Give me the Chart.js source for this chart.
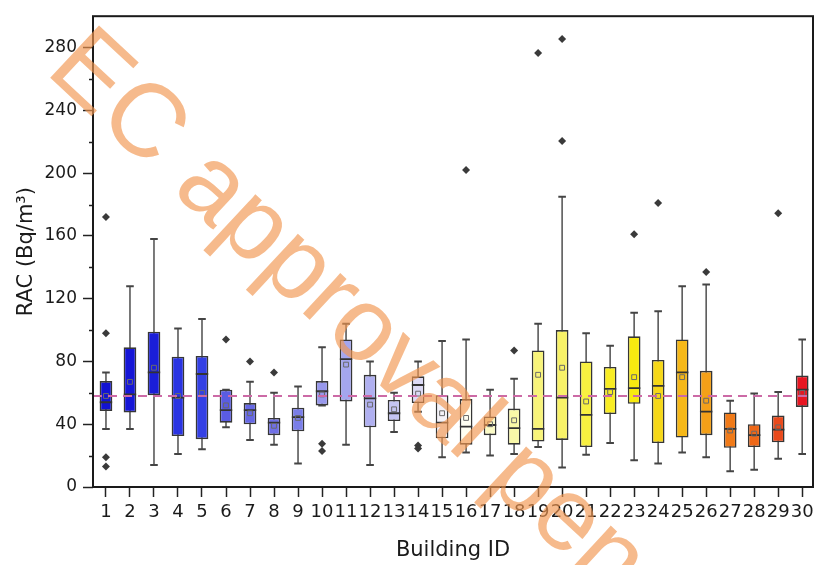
<!DOCTYPE html>
<html>
<head>
<meta charset="utf-8">
<script src="https://cdn.jsdelivr.net/npm/chart.js@4.4.1/dist/chart.umd.min.js"></script>
<style>
  html, body { margin: 0; padding: 0; background: #ffffff; overflow: hidden; }
  #chart { display: block; }
</style>
</head>
<body>
<canvas id="chart" width="815" height="565"></canvas>
<script>
// Radon activity concentration per building (Bq/m3): box-plot statistics
const buildingIds = [1,2,3,4,5,6,7,8,9,10,11,12,13,14,15,16,17,18,19,20,21,22,23,24,25,26,27,28,29,30];
const whiskerLow  = [37, 37, 14, 21, 24, 38, 30, 27, 15, 52, 27, 14, 35, 48, 19, 22, 20, 21, 25.5, 12.5, 20.5, 28, 17, 15, 22, 19, 10, 11, 18, 21];
const q1          = [48.5, 47.5, 58.5, 32.5, 30.5, 41, 40, 33, 35.5, 52, 54.5, 38, 42, 53.5, 31, 27, 33, 27, 29, 30, 25.5, 46.5, 53, 28, 31.5, 33, 25, 25.5, 28.5, 51];
const median      = [54, 59, 73, 57, 72, 49, 49, 41, 44.5, 61, 81.5, 56.5, 47, 65, 41, 38.5, 39.5, 37.5, 37, 57, 46, 62.5, 63, 64.5, 73, 48, 37, 33, 36.5, 62];
const q3          = [67.5, 89, 99, 83, 83.5, 62, 53.5, 44, 50.5, 67.5, 94, 71.5, 55.5, 70.5, 58.5, 56, 45, 50, 87, 100, 80, 76.5, 96, 81, 94, 74, 47.5, 40, 45.5, 71];
const whiskerHigh = [73, 128, 158, 101, 107, 62, 67, 60, 64, 89, 104, 80, 60, 80, 93, 94, 62, 69, 104, 185, 98, 90, 111, 112, 128, 129, 55, 59.5, 60.5, 94];
const meanValue   = [58, 67, 76, 58, 60, 52, 47, 39, 44, 59, 78, 52.5, 49.5, 59.5, 47, 44, 40, 42.5, 71.5, 76, 54.5, 60.5, 70, 58, 70, 55, 36, 34, 38, 60];
// outliers as [building, value]
const outliers = [
  [1, 172], [1, 98], [1, 19], [1, 13],
  [6, 94], [7, 80], [8, 73],
  [10, 27.5], [10, 23],
  [14, 26.5], [14, 24.5],
  [16, 202], [18, 87],
  [19, 276.5], [20, 285.5], [20, 220.5],
  [23, 161], [24, 181], [26, 137], [29, 174.5]
];
// box fill colours, blue through yellow to red
const boxColors = [
  '#1212d2', '#1616d6', '#1a1ed8', '#2a34e2', '#3440e4',
  '#5a5ce2', '#6668e4', '#7070e6', '#7a7ee8', '#9898ec',
  '#a4a6ee', '#b0b0f0', '#c4c4f2', '#dcdaf6', '#f4f2f8',
  '#fffff2', '#fbfbc6', '#f9f8a8', '#f8f47a', '#f8f268',
  '#f8f040', '#f8ec24', '#f8ea10', '#f6d818', '#f6b818',
  '#f4a018', '#f07a18', '#ee6818', '#ea4a1c', '#e81622'
];
const referenceLevel = 58;
const yTicksMajor = [0, 40, 80, 120, 160, 200, 240, 280];

const boxData = buildingIds.map((b, i) => ({ x: b, y: [q1[i], q3[i]] }));
const whiskerData = buildingIds.map((b, i) => ({ x: b, y: [whiskerLow[i], whiskerHigh[i]] }));
const capData = buildingIds.flatMap((b, i) => [{ x: b, y: whiskerLow[i] }, { x: b, y: whiskerHigh[i] }]);
const medianData = buildingIds.map((b, i) => ({ x: b, y: median[i] }));
const meanData = buildingIds.map((b, i) => ({ x: b, y: meanValue[i] }));
const outlierData = outliers.map(([b, v]) => ({ x: b, y: v }));

const FONT = 'DejaVu Sans';

const decorPlugin = {
  id: 'decor',
  afterDatasetsDraw(chart) {
    const { ctx, chartArea: a, scales: { y } } = chart;
    const yy = y.getPixelForValue(referenceLevel);
    ctx.save();
    ctx.setLineDash([9, 6]);
    ctx.strokeStyle = '#cc6aa6';
    ctx.lineWidth = 2;
    ctx.beginPath();
    ctx.moveTo(a.left, yy);
    ctx.lineTo(a.right, yy);
    ctx.stroke();
    ctx.restore();
  },
  afterDraw(chart) {
    const { ctx, chartArea: a, scales: { y } } = chart;
    ctx.save();
    // minor ticks on the value axis
    ctx.strokeStyle = '#222';
    ctx.lineWidth = 1.5;
    for (let v = 20; v < y.max; v += 40) {
      const py = Math.round(y.getPixelForValue(v)) + 0.5;
      ctx.beginPath();
      ctx.moveTo(a.left - 4, py);
      ctx.lineTo(a.left, py);
      ctx.stroke();
    }
    // frame
    ctx.strokeStyle = '#1a1a1a';
    ctx.lineWidth = 2;
    ctx.strokeRect(a.left, a.top, a.right - a.left, a.bottom - a.top);
    // watermark
    ctx.translate(44, 72);
    ctx.rotate(43 * Math.PI / 180);
    ctx.font = '104px "Liberation Sans"';
    ctx.fillStyle = 'rgba(241,150,80,0.66)';
    ctx.textBaseline = 'alphabetic';
    ctx.fillText('EC approval pending', 0, 0);
    ctx.restore();
  }
};

new Chart(document.getElementById('chart'), {
  type: 'bar',
  data: {
    datasets: [
      {
        type: 'bar', data: whiskerData, grouped: false, order: 6,
        backgroundColor: '#555555', borderWidth: 0,
        categoryPercentage: 1, barPercentage: 0.065
      },
      {
        type: 'bar', data: boxData, grouped: false, order: 5,
        backgroundColor: boxColors, borderColor: '#363636', borderWidth: 1.6,
        borderSkipped: false, categoryPercentage: 1, barPercentage: 0.53
      },
      {
        type: 'scatter', data: capData, order: 4,
        pointStyle: 'line', pointRadius: 3.8, borderColor: '#444444', borderWidth: 2
      },
      {
        type: 'scatter', data: medianData, order: 3,
        pointStyle: 'line', pointRadius: 6.2, borderColor: '#333333', borderWidth: 1.8
      },
      {
        type: 'scatter', data: meanData, order: 2,
        pointStyle: 'rect', pointRadius: 3.4, borderColor: '#6a6a6a', borderWidth: 1,
        backgroundColor: 'rgba(0,0,0,0)'
      },
      {
        type: 'scatter', data: outlierData, order: 1,
        pointStyle: 'rectRot', pointRadius: 4, backgroundColor: '#3a3a3a', borderColor: '#3a3a3a', borderWidth: 0
      }
    ]
  },
  options: {
    responsive: false,
    maintainAspectRatio: false,
    animation: false,
    events: [],
    layout: { autoPadding: false, padding: { top: 16, right: 2, left: 0, bottom: 0 } },
    plugins: { legend: { display: false }, tooltip: { enabled: false } },
    scales: {
      x: {
        type: 'linear',
        offset: false,
        min: 0.46, max: 30.45,
        afterFit(scale) { scale.height = 78; scale.paddingRight = 0; },
        border: { display: false },
        grid: { drawOnChartArea: false, drawTicks: true, tickLength: 10, tickColor: '#222', tickWidth: 1.5, offset: false },
        ticks: {
          stepSize: 1, includeBounds: false, autoSkip: false, maxRotation: 0,
          padding: 5, color: '#1a1a1a', font: { family: FONT, size: 18 },
          callback: (v) => buildingIds.includes(v) ? String(v) : ''
        },
        title: {
          display: true, text: 'Building ID', color: '#1a1a1a',
          font: { family: FONT, size: 21 }, padding: { top: 0, bottom: 1.4 }
        }
      },
      y: {
        type: 'linear',
        min: 0, max: 300,
        afterFit(scale) { scale.width = 93; },
        afterBuildTicks(scale) { scale.ticks = yTicksMajor.map(v => ({ value: v })); },
        border: { display: false },
        grid: { drawOnChartArea: false, drawTicks: true, tickLength: 10, tickColor: '#222', tickWidth: 1.5 },
        ticks: { padding: 6, color: '#1a1a1a', font: { family: FONT, size: 17 } },
        title: {
          display: true, text: 'RAC (Bq/m³)', color: '#1a1a1a',
          font: { family: FONT, size: 21 }, padding: { top: 14.4, bottom: 0 }
        }
      }
    }
  },
  plugins: [decorPlugin]
});
</script>
</body>
</html>
